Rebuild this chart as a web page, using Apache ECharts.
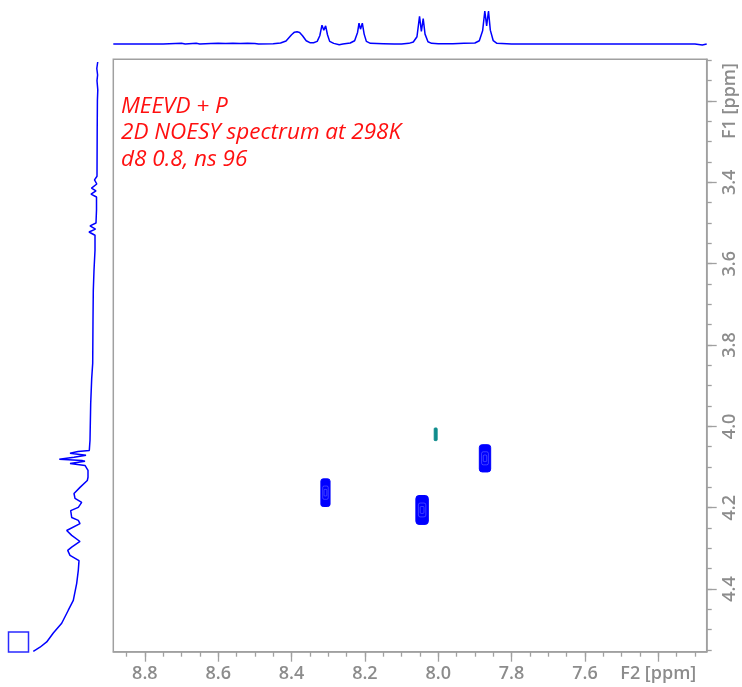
<!DOCTYPE html>
<html>
<head>
<meta charset="utf-8">
<script src="https://cdn.jsdelivr.net/npm/echarts@6/dist/echarts.min.js"></script>
<style>
html,body{margin:0;padding:0;background:#fff;}
#chart{width:742px;height:687px;}
</style>
</head>
<body>
<div id="chart"></div>
<script>
// ---- axis ranges / ticks ----
const f2Range = [7.268, 8.886];
const f1Range = [3.0974, 4.554];
const f2MajorTicks = [8.8, 8.6, 8.4, 8.2, 8.0, 7.8, 7.6, 7.4];
const f1MajorTicks = [3.2, 3.4, 3.6, 3.8, 4.0, 4.2, 4.4];
const f2AxisName = 'F2 [ppm]';
const f1AxisName = 'F1 [ppm]';
const titleLines = ['MEEVD + P', '2D NOESY spectrum at 298K', 'd8 0.8, ns 96'];

// ---- top 1D projection (F2) ----
const topPpm = [8.886,8.75,8.70,8.69,8.66,8.65,8.62,8.60,8.58,8.56,8.54,8.52,8.50,8.49,8.45,8.43,8.415,8.40,8.392,8.385,8.378,8.37,8.36,8.35,8.34,8.33,8.323,8.317,8.312,8.307,8.302,8.296,8.285,8.27,8.26,8.24,8.228,8.22,8.216,8.212,8.207,8.202,8.196,8.185,8.18,8.15,8.12,8.10,8.08,8.068,8.058,8.051,8.046,8.041,8.036,8.028,8.018,8.0,7.96,7.93,7.90,7.888,7.879,7.873,7.868,7.863,7.858,7.850,7.84,7.80,7.69,7.688,7.686,7.58,7.578,7.576,7.30,7.28,7.268];
const topIntensity = [0,0,0.02,0,0.02,0,0.015,0.02,0.015,0.02,0.015,0.02,0.015,0,0.01,0.03,0.09,0.28,0.36,0.37,0.35,0.25,0.10,0.04,0.04,0.08,0.25,0.57,0.42,0.55,0.28,0.08,0.02,-0.02,0,0.03,0.10,0.35,0.63,0.45,0.63,0.30,0.08,0.02,0,0.01,0,0,0.02,0.06,0.22,0.84,0.38,0.77,0.30,0.07,0.02,0.01,0.01,0.02,0.03,0.10,0.40,1.0,0.55,1.0,0.42,0.10,0.02,0,0,0.03,0,0,0.03,0,0,-0.03,0];

// ---- left 1D projection (F1) ----
const leftPpm = [3.104,3.120,3.136,3.150,3.173,3.198,3.272,3.385,3.394,3.404,3.414,3.421,3.429,3.436,3.468,3.500,3.507,3.515,3.522,3.530,3.542,3.567,3.616,3.666,3.739,3.845,3.882,3.943,4.034,4.059,4.062,4.066,4.069,4.071,4.076,4.081,4.084,4.086,4.091,4.096,4.108,4.125,4.133,4.150,4.165,4.177,4.187,4.199,4.207,4.224,4.231,4.239,4.256,4.268,4.283,4.297,4.305,4.317,4.330,4.354,4.386,4.428,4.452,4.484,4.508,4.530,4.543,4.553];
const leftIntensity = [2.3,3.2,2.4,3.0,2.2,2.6,2.8,3.0,5.5,3.2,8.5,4.0,9.0,3.5,3.5,4.0,10.0,4.5,11.0,5.0,5.0,5.0,6.0,6.7,7.0,7.3,8.3,9.3,10.0,10.7,22,30,20,14,26,40.7,18,15,30,15,12,12,12.7,20,26,25,18.3,21.7,29.3,28.3,21.7,20,33.3,28.3,20,28.3,32.3,30,21,21.7,23.3,26.7,31.7,38.3,46.7,53.3,60,66.7];

// ---- 2D cross peaks ----
const peakF2 = [8.3075, 8.044, 7.8725, 8.007];
const peakF1 = [4.163, 4.2055, 4.0785, 4.0195];
const peakHalfF2 = [0.0125, 0.017, 0.0155, 0.004];
const peakHalfF1 = [0.034, 0.0355, 0.0335, 0.0155];
const peakKind = [0, 0, 0, 1]; // 0 = positive (blue), 1 = negative (teal)

const axisGray = '#a0a0a0';
const labelGray = '#8c8c8c';
const blue = '#0000ff';

function range05(a, b) { const out = []; for (let v = a; v <= b + 1e-9; v += 0.05) out.push(+v.toFixed(2)); return out; }
const f2MinorTicks = range05(7.30, 8.85);
const f1MinorTicks = range05(3.10, 4.55);

const topData = topPpm.map((p, i) => [p, topIntensity[i]]);
const leftData = leftPpm.map((p, i) => [leftIntensity[i], p]);
const peakData = peakF2.map((p, i) => [p, peakF1[i], peakHalfF2[i], peakHalfF1[i], peakKind[i]]);

const labelFont = { color: labelGray, fontSize: 18, fontFamily: 'Open Sans', fontWeight: 600 };

const chart = echarts.init(document.getElementById('chart'), null, { renderer: 'canvas' });
chart.setOption({
  animation: false,
  backgroundColor: '#fff',
  title: {
    text: titleLines.join('\n'),
    left: 116, top: 88,
    textStyle: { color: '#ff1010', fontStyle: 'italic', fontWeight: 'normal', fontSize: 22.5, fontFamily: 'Open Sans', lineHeight: 26.5 }
  },
  grid: [
    { left: 113.3, top: 59.3, width: 593.4, height: 592.4, show: true, borderColor: axisGray, borderWidth: 1.5, backgroundColor: '#fff' },
    { left: 113.3, top: 11, width: 593.4, height: 35 },
    { left: 0, top: 59.3, width: 100, height: 592.4 }
  ],
  xAxis: [
    { gridIndex: 0, type: 'value', min: f2Range[0], max: f2Range[1], inverse: true, position: 'bottom',
      axisLine: { show: true, onZero: false, lineStyle: { color: axisGray, width: 1.5 } },
      axisTick: { show: true, length: 10, customValues: f2MajorTicks, lineStyle: { color: axisGray, width: 1.3 } },
      axisLabel: Object.assign({ customValues: f2MajorTicks, margin: 13,
        formatter: v => Math.abs(v - 7.4) < 1e-6 ? f2AxisName : v.toFixed(1) }, labelFont),
      splitLine: { show: false } },
    { gridIndex: 0, type: 'value', min: f2Range[0], max: f2Range[1], inverse: true, position: 'bottom',
      axisLine: { show: false, onZero: false },
      axisTick: { show: true, length: 5, customValues: f2MinorTicks, lineStyle: { color: axisGray, width: 1.3 } },
      axisLabel: { show: false }, splitLine: { show: false } },
    { gridIndex: 1, type: 'value', min: f2Range[0], max: f2Range[1], inverse: true, show: false },
    { gridIndex: 2, type: 'value', min: 0, max: 100, inverse: true, show: false }
  ],
  yAxis: [
    { gridIndex: 0, type: 'value', min: f1Range[0], max: f1Range[1], inverse: true, position: 'right',
      axisLine: { show: true, onZero: false, lineStyle: { color: axisGray, width: 1.5 } },
      axisTick: { show: true, length: 10, customValues: f1MajorTicks, lineStyle: { color: axisGray, width: 1.3 } },
      axisLabel: Object.assign({ customValues: f1MajorTicks, rotate: 90, margin: 14,
        formatter: v => Math.abs(v - 3.2) < 1e-6 ? f1AxisName : v.toFixed(1) }, labelFont),
      splitLine: { show: false } },
    { gridIndex: 0, type: 'value', min: f1Range[0], max: f1Range[1], inverse: true, position: 'right',
      axisLine: { show: false, onZero: false },
      axisTick: { show: true, length: 5, customValues: f1MinorTicks, lineStyle: { color: axisGray, width: 1.3 } },
      axisLabel: { show: false }, splitLine: { show: false } },
    { gridIndex: 1, type: 'value', min: -0.06, max: 1, show: false },
    { gridIndex: 2, type: 'value', min: f1Range[0], max: f1Range[1], inverse: true, show: false }
  ],
  graphic: [
    { type: 'rect', shape: { x: 8.5, y: 632, width: 20, height: 20 }, style: { fill: 'none', stroke: '#2a2aff', lineWidth: 1.5 } }
  ],
  series: [
    { type: 'line', xAxisIndex: 2, yAxisIndex: 2, data: topData, symbol: 'none',
      lineStyle: { color: blue, width: 1.5 }, silent: true },
    { type: 'line', xAxisIndex: 3, yAxisIndex: 3, data: leftData, symbol: 'none',
      lineStyle: { color: blue, width: 1.5 }, silent: true },
    { type: 'custom', xAxisIndex: 0, yAxisIndex: 0, data: peakData, encode: { x: 0, y: 1 },
      renderItem: function (params, api) {
        const c = api.coord([api.value(0), api.value(1)]);
        const s = api.size([api.value(2) * 2, api.value(3) * 2]);
        const w = Math.abs(s[0]), h = Math.abs(s[1]);
        const teal = api.value(4) === 1;
        const color = teal ? '#0f8c8c' : blue;
        const children = [
          { type: 'rect', shape: { x: c[0] - w / 2, y: c[1] - h / 2, width: w, height: h, r: Math.min(w, h) / 4 },
            style: { fill: color, stroke: color, lineWidth: 1 } }
        ];
        if (!teal) {
          [0.6, 0.3].forEach(k => {
            children.push({ type: 'rect', shape: { x: c[0] - w * k / 2, y: c[1] - h * 0.8 * k / 2, width: w * k, height: h * 0.8 * k, r: w * k / 4 },
              style: { fill: 'none', stroke: '#ffffff', lineWidth: 0.6, opacity: 0.4 } });
          });
        }
        return { type: 'group', children: children };
      } }
  ]
});
</script>
</body>
</html>
